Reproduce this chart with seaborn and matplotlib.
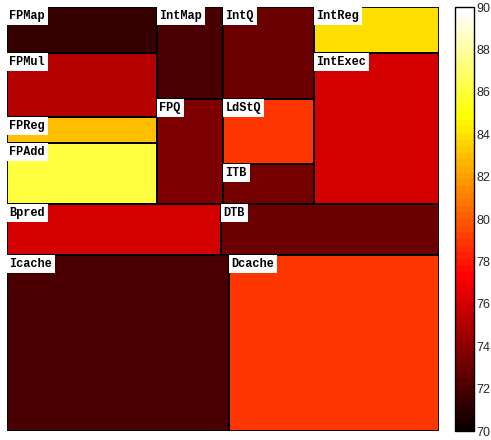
import numpy as np
import pandas as pd
import matplotlib
matplotlib.use("Agg")
import matplotlib.pyplot as plt
from matplotlib.patches import Rectangle
import seaborn as sns

# Floorplan units (grid cells); origin at top-left of the die
names  = ["FPMap", "IntMap", "IntQ", "IntReg", "FPMul", "IntExec", "FPQ", "LdStQ",
          "ITB", "FPReg", "FPAdd", "Bpred", "DTB", "Icache", "Dcache"]
left   = [0,   150, 216, 307, 0,   307, 150, 216, 216, 0,   0,   0,   214, 0,   222]
top    = [0,   0,   0,   0,   46,  46,  92,  92,  157, 110, 136, 197, 197, 247, 247]
width  = [150, 66,  91,  125, 150, 125, 66,  91,  91,  150, 150, 214, 218, 222, 210]
height = [46,  92,  92,  46,  64,  151, 105, 65,  40,  26,  61,  50,  50,  176, 176]
temps  = [71.3, 72.1, 72.9, 83.9, 75.1, 76.0, 73.7, 78.9,
          73.4, 83.0, 86.1, 76.0, 72.9, 72.1, 78.9]

die_w, die_h = 432, 423
cbar_ticks = list(range(70, 91, 2))

# Rasterise the block temperatures onto a grid
grid = np.full((die_h, die_w), np.nan)
for x0, y0, w, h, t in zip(left, top, width, height, temps):
    grid[y0:y0 + h, x0:x0 + w] = t
frame = pd.DataFrame(grid)

sns.set_style("white")
fig = plt.figure(figsize=(4.91, 4.40), dpi=100)
ax = fig.add_axes([7 / 491, 9 / 440, 432 / 491, 424 / 440])
cax = fig.add_axes([455 / 491, 9 / 440, 19 / 491, 424 / 440])

cmap = plt.get_cmap("hot", 64)
sns.heatmap(frame, ax=ax, cmap=cmap, vmin=70, vmax=90, cbar=True, cbar_ax=cax,
            xticklabels=False, yticklabels=False, rasterized=True)

for name, x0, y0, w, h in zip(names, left, top, width, height):
    ax.add_patch(Rectangle((x0, y0), w, h, fill=False, edgecolor="black", lw=1.3))
    ax.text(x0 + 2.5, y0 + 3, name, ha="left", va="top", fontsize=8.6,
            family="Liberation Mono", weight="bold", color="black",
            bbox=dict(boxstyle="square,pad=0.25", fc="white", ec="none"))

ax.set_xlim(0, die_w)
ax.set_ylim(die_h, 0)

cbar = ax.collections[0].colorbar
cbar.set_ticks(cbar_ticks)
cbar.outline.set_edgecolor("black")
cbar.outline.set_linewidth(1.0)
cax.tick_params(axis="y", which="both", direction="in", left=True, right=True,
                length=3, width=0.6, labelsize=9, pad=2)
for lbl in cax.get_yticklabels():
    lbl.set_family("Liberation Sans")

fig.savefig("out.png", dpi=100)
